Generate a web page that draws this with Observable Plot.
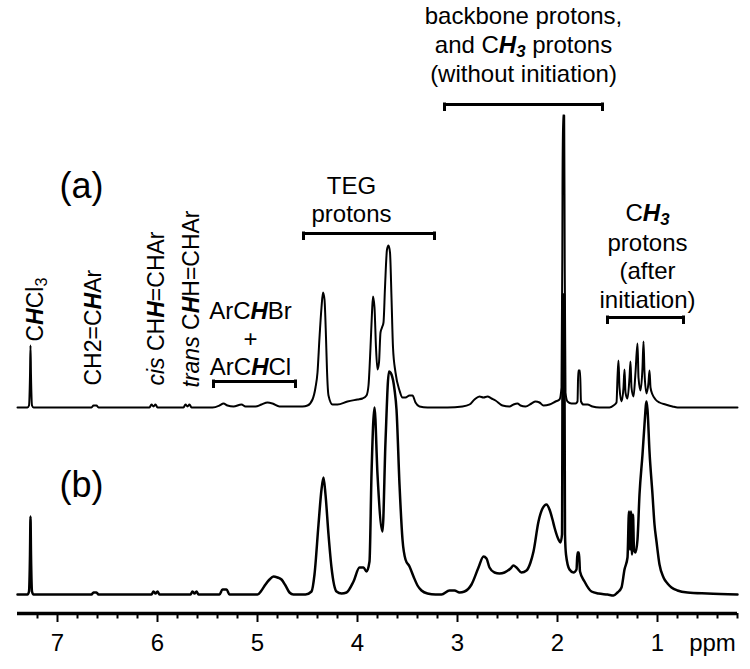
<!DOCTYPE html>
<html><head><meta charset="utf-8">
<script src="https://cdn.jsdelivr.net/npm/d3@7"></script>
<script src="https://cdn.jsdelivr.net/npm/@observablehq/plot@0.6"></script>
<style>body{margin:0;background:#fff}</style>
</head><body><div id="chart"></div>
<script>
// ---- data: [ppm, intensity above baseline] ----
const specA = [
[7.40,0],[7.30,0],[7.285,2],[7.275,32],[7.27,62],[7.265,32],[7.255,2],[7.24,0],
[6.90,0],[6.66,0],[6.64,2],[6.61,2],[6.59,0],
[6.08,0],[6.06,3],[6.04,1],[6.02,3],[6.00,0],
[5.74,0],[5.72,3],[5.70,1],[5.68,3],[5.66,0],
[5.45,0],[5.38,2],[5.34,4],[5.30,2],[5.24,1],[5.16,3],[5.12,1],[5.02,1],[4.96,3],[4.90,5],[4.85,4],[4.78,1],[4.62,1],[4.55,1],
[4.50,2],[4.45,8],[4.42,20],[4.40,35],[4.38,70],[4.36,100],[4.345,115],[4.33,108],[4.315,70],[4.305,37],[4.29,12],[4.25,3],[4.20,3],[4.10,6],[4.00,8],[3.95,9],[3.91,12],[3.89,22],[3.87,60],[3.855,95],[3.845,111],[3.83,100],[3.815,60],[3.80,38],[3.785,45],[3.77,75],[3.755,80],[3.74,85],[3.725,120],[3.705,158],[3.69,162],[3.675,155],[3.66,110],[3.645,60],[3.62,35],[3.58,17],[3.55,10],[3.52,10],[3.48,12],[3.45,12],[3.42,5],[3.38,1],[3.30,0],
[3.10,0],[2.95,1],[2.88,3],[2.83,8],[2.78,11],[2.74,10],[2.70,11],[2.66,9],[2.62,7],[2.55,2],[2.48,1],[2.44,3],[2.40,4],[2.37,2],[2.32,1],[2.26,4],[2.22,6],[2.18,5],[2.14,2],[2.08,3],[2.02,6],[1.98,8],[1.96,20],[1.952,150],[1.947,292],[1.933,292],[1.928,150],[1.92,15],[1.90,6],[1.86,4],[1.82,4],[1.80,6],[1.792,37],[1.775,37],[1.765,6],[1.74,3],[1.70,3],[1.65,1],[1.58,0],[1.48,0],[1.44,2],[1.41,5],[1.40,30],[1.39,47],[1.38,20],[1.36,6],[1.34,20],[1.33,38],[1.32,15],[1.30,9],[1.28,30],[1.27,46],[1.26,20],[1.24,11],[1.22,35],[1.20,64],[1.19,30],[1.17,17],[1.15,40],[1.14,66],[1.13,35],[1.11,14],[1.09,25],[1.08,37],[1.07,20],[1.05,13],[1.02,8],[0.98,5],[0.92,3],[0.85,1],[0.80,0],[0.20,0]
];
const specB = [
[7.40,0],[7.30,0],[7.285,3],[7.275,40],[7.27,78],[7.265,40],[7.255,3],[7.24,0],
[6.90,0],[6.66,0],[6.64,2],[6.61,2],[6.59,0],
[6.06,0],[6.04,3],[6.02,1],[6.00,3],[5.98,0],
[5.67,0],[5.65,3],[5.63,1],[5.61,3],[5.59,0],
[5.38,0],[5.35,5],[5.31,5],[5.28,0],
[5.00,0],[4.96,4],[4.92,10],[4.88,15],[4.84,18],[4.80,17],[4.76,15],[4.72,9],[4.68,2],[4.64,0],[4.52,0],
[4.46,3],[4.43,20],[4.39,70],[4.36,105],[4.34,117],[4.32,100],[4.29,60],[4.26,27],[4.21,3],[4.16,1],[4.11,2],[4.04,13],[3.98,27],[3.94,27],[3.91,23],[3.88,33],[3.86,120],[3.83,187],[3.80,120],[3.75,63],[3.72,153],[3.685,223],[3.66,220],[3.63,205],[3.61,185],[3.58,110],[3.55,55],[3.52,35],[3.48,28],[3.44,18],[3.40,9],[3.36,4],[3.30,1],[3.22,0],[3.16,0],[3.08,4],[3.03,4],[2.98,2],[2.93,3],[2.86,10],[2.79,27],[2.74,38],[2.71,36],[2.68,27],[2.63,22],[2.58,21],[2.53,22],[2.47,26],[2.44,29],[2.41,27],[2.36,22],[2.31,24],[2.27,32],[2.24,43],[2.19,73],[2.15,86],[2.11,90],[2.08,85],[2.05,75],[2.03,67],[1.99,55],[1.97,52],[1.955,60],[1.947,300],[1.933,300],[1.925,60],[1.915,40],[1.88,25],[1.84,22],[1.81,25],[1.80,42],[1.785,42],[1.775,23],[1.73,13],[1.66,3],[1.59,1],[1.50,0],[1.44,-1],[1.40,2],[1.36,7],[1.33,25],[1.30,37],[1.285,83],[1.275,45],[1.265,83],[1.255,40],[1.245,80],[1.235,45],[1.22,42],[1.20,55],[1.18,100],[1.15,140],[1.13,170],[1.11,193],[1.10,185],[1.08,143],[1.05,100],[1.03,70],[1.01,53],[0.98,30],[0.94,17],[0.90,11],[0.86,7],[0.80,4],[0.70,2],[0.50,1],[0.20,0]
];
const majorTicks = [7, 6, 5, 4, 3, 2, 1];
const minorTicks = [7.2, 6.8, 6.6, 6.4, 6.2, 5.8, 5.6, 5.4, 5.2, 4.8, 4.6, 4.4, 4.2, 3.8, 3.6, 3.4, 3.2, 2.8, 2.6, 2.4, 2.2, 1.8, 1.6, 1.4, 1.2, 0.8, 0.6, 0.4, 0.2];
const axisUnit = "ppm";
const panelLabels = ["(a)", "(b)"];
const groupLabels = [
  "backbone protons,", "and C{b:H}{bs:3} protons", "(without initiation)",
  "TEG", "protons",
  "C{b:H}{bs:3}", "protons", "(after", "initiation)",
  "ArC{b:H}Br", "+", "ArC{b:H}Cl"
];
const peakLabels = ["C{b:H}Cl{s:3}", "CH2=C{b:H}Ar", "{i:cis} CH{b:H}=CHAr", "{i:trans} C{b:H}H=CHAr"];

// ---- layout (positions in ppm / plot units) ----
const offA = 206, offB = 19;
const groupPos = [
  [2.34,590],[2.34,561],[2.34,532],
  [4.06,420],[4.06,392],
  [1.10,393],[1.10,363],[1.10,335],[1.10,306],
  [5.07,295],[5.07,267],[5.07,239]
];
const peakPos = [[7.15,272],[6.57,228],[5.94,228],[5.59,226]];
const panelPos = [[6.98,416],[6.98,117]];
const brackets = [[3.13,1.55,509],[4.54,3.23,380],[1.50,0.74,296],[5.44,4.62,232]];
const tickLen = 7;

const groups = groupLabels.map((t,i)=>({t, x: groupPos[i][0], y: groupPos[i][1]}));
const peaks = peakLabels.map((t,i)=>({t, x: peakPos[i][0], y: peakPos[i][1]}));
const panels = panelLabels.map((t,i)=>({t, x: panelPos[i][0], y: panelPos[i][1]}));
const ends = brackets.flatMap(b => [b[0], b[1]].map(x => ({x, y1: b[2] + 1.5, y2: b[2] - tickLen})));

const font = "Liberation Sans, Arial, sans-serif";
const plot = Plot.plot({
  width: 750, height: 669,
  marginLeft: 17, marginRight: 13, marginTop: 0, marginBottom: 56,
  x: {domain: [7.4, 0.2], label: null},
  y: {domain: [0, 613], axis: null},
  style: {fontFamily: font, background: "white", color: "black"},
  marks: [
    Plot.line(specA, {x: d => d[0], y: d => d[1] + offA, curve: "monotone-x", stroke: "black", strokeWidth: 2}),
    Plot.line(specB, {x: d => d[0], y: d => d[1] + offB, curve: "monotone-x", stroke: "black", strokeWidth: 2.5}),
    Plot.ruleY([0], {stroke: "black", strokeWidth: 3.5}),
    Plot.axisX({ticks: majorTicks, tickSize: 9, tickPadding: 11, fontSize: 24, strokeWidth: 2, label: null, tickFormat: d => String(d)}),
    Plot.axisX({ticks: minorTicks, tickSize: 5.5, strokeWidth: 2, label: null, tickFormat: () => ""}),
    Plot.text([axisUnit], {x: 0.45, y: -37, text: d => d, fontSize: 24, lineAnchor: "bottom", textAnchor: "middle"}),
    Plot.ruleY(brackets, {x1: d => d[0], x2: d => d[1], y: d => d[2], stroke: "black", strokeWidth: 3}),
    Plot.ruleX(ends, {x: "x", y1: "y1", y2: "y2", stroke: "black", strokeWidth: 3}),
    Plot.text(groups, {x: "x", y: "y", text: "t", fontSize: 24, lineAnchor: "bottom", textAnchor: "middle"}),
    Plot.text(peaks, {x: "x", y: "y", text: "t", fontSize: 23, lineAnchor: "bottom", textAnchor: "start", rotate: -90}),
    Plot.text(panels, {x: "x", y: "y", text: "t", fontSize: 36, lineAnchor: "bottom", textAnchor: "start"})
  ]
});

// rich text: bold-italic H, italics, subscripts
function esc(s){return s.replace(/&/g,"&amp;").replace(/</g,"&lt;");}
plot.querySelectorAll("text").forEach(t => {
  const s = t.textContent;
  if (!s.includes("{")) return;
  let fs = 24, p = t;
  while (p && p !== plot) { const f = p.getAttribute && p.getAttribute("font-size"); if (f) { fs = parseFloat(f); break; } p = p.parentNode; }
  const sh = fs * 0.18;
  let html = "", shifted = false, last = 0, m;
  const emit = (str, attrs, sub) => {
    if (!str) return;
    let a = attrs;
    if (sub) { a += ` font-size="${fs*0.7}" dy="${sh}"`; }
    else if (shifted) { a += ` dy="${-sh}"`; }
    shifted = sub;
    html += `<tspan${a}>${esc(str)}</tspan>`;
  };
  const re = /\{(b|i|s|bs):([^}]*)\}/g;
  while ((m = re.exec(s))) {
    emit(s.slice(last, m.index), "", false);
    const k = m[1];
    const bi = ` font-weight="bold" font-style="italic"`;
    if (k === "b") emit(m[2], bi, false);
    else if (k === "i") emit(m[2], ` font-style="italic"`, false);
    else if (k === "s") emit(m[2], "", true);
    else emit(m[2], bi, true);
    last = re.lastIndex;
  }
  emit(s.slice(last), "", false);
  t.innerHTML = html;
});
document.getElementById("chart").appendChild(plot);
</script>
</body></html>
